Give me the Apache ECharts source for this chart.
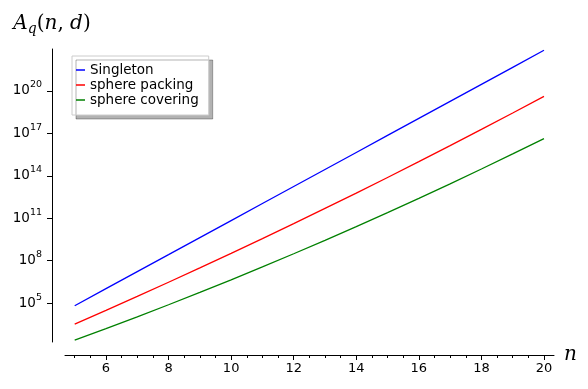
<!DOCTYPE html>
<html>
<head>
<meta charset="utf-8">
<script src="https://cdn.jsdelivr.net/npm/echarts@6/dist/echarts.min.js"></script>
<style>
  html, body { margin: 0; padding: 0; background: #fff; }
  #chart { width: 588px; height: 389px; }
</style>
</head>
<body>
<div id="chart"></div>
<script>
// code length n
const nValues = [5, 6, 7, 8, 9, 10, 11, 12, 13, 14, 15, 16, 17, 18, 19, 20]
// bounds on A_q(n, d)
const singleton = [6.55e4, 1.05e6, 1.68e7, 2.68e8, 4.29e9, 6.87e10, 1.10e12, 1.76e13, 2.81e14, 4.50e15, 7.21e16, 1.15e18, 1.84e19, 2.95e20, 4.72e21, 7.56e22]
const spherePacking = [3.3e3, 3.07e4, 2.97e5, 2.98e6, 3.08e7, 3.30e8, 3.65e9, 4.18e10, 4.95e11, 6.05e12, 7.67e13, 1.00e15, 1.36e16, 1.91e17, 2.76e18, 4.13e19]
const sphereCovering = [2.43e2, 1.58e3, 1.08e4, 7.67e4, 5.71e5, 4.45e6, 3.63e7, 3.09e8, 2.75e9, 2.57e10, 2.51e11, 2.56e12, 2.73e13, 3.04e14, 3.55e15, 4.32e16]
// ticks
const xLabelValues = [6, 8, 10, 12, 14, 16, 18, 20]
const xMinorTicks = [5, 5.5, 6, 6.5, 7, 7.5, 8, 8.5, 9, 9.5, 10, 10.5, 11, 11.5, 12, 12.5, 13, 13.5, 14, 14.5, 15, 15.5, 16, 16.5, 17, 17.5, 18, 18.5, 19, 19.5, 20]
const yLabelValues = [1e5, 1e8, 1e11, 1e14, 1e17, 1e20]

const seriesDefs = [
  { name: 'Singleton', color: '#0000ff', values: singleton },
  { name: 'sphere packing', color: '#ff0000', values: spherePacking },
  { name: 'sphere covering', color: '#008000', values: sphereCovering }
]

const chart = echarts.init(document.getElementById('chart'))

const xMin = 4.69
const xMax = 20.32
const axisColor = '#000'

const option = {
  animation: false,
  grid: { left: 65, right: 34, top: 49, bottom: 47 },
  legend: {
    orient: 'vertical',
    left: 72,
    top: 56,
    data: seriesDefs.map(s => s.name),
    icon: 'rect',
    itemWidth: 9,
    itemHeight: 1.5,
    itemGap: 1,
    padding: [7, 10, 8, 4],
    backgroundColor: '#fff',
    borderColor: '#cccccc',
    borderWidth: 1,
    shadowColor: 'rgba(0, 0, 0, 0.3)',
    shadowOffsetX: 4,
    shadowOffsetY: 4,
    shadowBlur: 0,
    textStyle: { fontFamily: 'DejaVu Sans', fontSize: 13.5, color: '#000', lineHeight: 14 }
  },
  xAxis: [
    {
      type: 'value',
      min: xMin,
      max: xMax,
      position: 'bottom',
      offset: 13,
      axisLine: { show: true, onZero: false, lineStyle: { color: axisColor, width: 1 } },
      axisTick: { show: true, customValues: xMinorTicks, length: 3, lineStyle: { color: axisColor } },
      axisLabel: { customValues: xLabelValues, color: '#000', fontFamily: 'DejaVu Sans', fontSize: 13, margin: 7 },
      splitLine: { show: false },
      name: 'n',
      nameLocation: 'end',
      nameGap: 10,
      nameTextStyle: {
        fontFamily: 'DejaVu Serif', fontStyle: 'italic', fontSize: 20, color: '#000',
        verticalAlign: 'middle', padding: [0, 0, 6, 0]
      }
    },
    {
      // longer major ticks
      type: 'value',
      min: xMin,
      max: xMax,
      position: 'bottom',
      offset: 13,
      axisLine: { show: false, onZero: false },
      axisTick: { show: true, customValues: xLabelValues, length: 5, lineStyle: { color: axisColor } },
      axisLabel: { show: false },
      splitLine: { show: false }
    }
  ],
  yAxis: {
    type: 'log',
    logBase: 10,
    min: Math.pow(10, 2.25),
    max: Math.pow(10, 22.97),
    offset: 13,
    axisLine: { show: true, onZero: false, lineStyle: { color: axisColor, width: 1 } },
    axisTick: { show: true, customValues: yLabelValues, length: 5, lineStyle: { color: axisColor } },
    minorTick: { show: false },
    splitLine: { show: false },
    axisLabel: {
      customValues: yLabelValues,
      margin: 10,
      formatter: function (v) {
        return '{b|10}{s|' + Math.round(Math.log10(v)) + '}'
      },
      rich: {
        b: { fontFamily: 'DejaVu Sans', fontSize: 13.5, color: '#000', lineHeight: 22 },
        s: { fontFamily: 'DejaVu Sans', fontSize: 9.5, color: '#000', lineHeight: 9, verticalAlign: 'top' }
      }
    },
    name: '{i|A}{sub|q}{r|(}{i|n}{r|, }{i|d}{r|)}',
    nameLocation: 'end',
    nameGap: 13,
    nameTextStyle: {
      rich: {
        i: { fontFamily: 'DejaVu Serif', fontStyle: 'italic', fontSize: 20, color: '#000', lineHeight: 24 },
        r: { fontFamily: 'DejaVu Serif', fontSize: 20, color: '#000', lineHeight: 24 },
        sub: { fontFamily: 'DejaVu Serif', fontStyle: 'italic', fontSize: 14, color: '#000', lineHeight: 14, verticalAlign: 'bottom' }
      }
    }
  },
  series: seriesDefs.map(s => ({
    type: 'line',
    name: s.name,
    data: nValues.map((n, i) => [n, s.values[i]]),
    showSymbol: false,
    clip: false,
    lineStyle: { color: s.color, width: 1.3 },
    itemStyle: { color: s.color }
  }))
}

chart.setOption(option)
</script>
</body>
</html>
